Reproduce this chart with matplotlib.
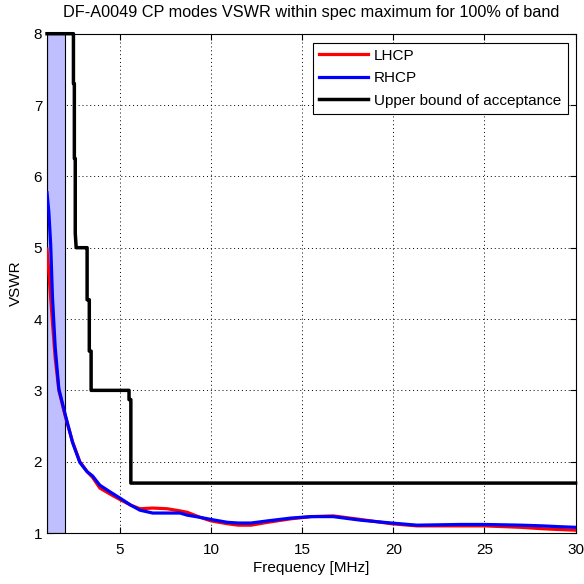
import matplotlib
matplotlib.use('Agg')
import matplotlib.pyplot as plt

plt.rcParams['font.family'] = ['Liberation Sans', 'DejaVu Sans']

# Frequency samples (MHz)
freq = [1.0, 1.1, 1.2, 1.3, 1.45, 1.65, 2.0, 2.4, 2.8, 3.2, 3.5, 3.9, 4.5, 5.0,
        5.6, 6.1, 6.8, 7.6, 8.3, 8.7, 9.4, 10.0, 10.9, 11.5, 12.2, 13.1, 14.4,
        15.5, 16.7, 18.2, 19.9, 21.3, 23.7, 25.0, 27.0, 28.2, 29.0, 30.0]

lhcp = [4.98, 4.65, 4.3, 3.95, 3.45, 3.0, 2.64, 2.28, 2.0, 1.86, 1.78, 1.63,
        1.54, 1.47, 1.39, 1.34, 1.35, 1.34, 1.31, 1.29, 1.22, 1.17, 1.13, 1.11,
        1.11, 1.15, 1.20, 1.23, 1.24, 1.19, 1.13, 1.10, 1.10, 1.10, 1.08, 1.06,
        1.05, 1.04]

rhcp = [5.77, 5.5, 5.05, 4.3, 3.6, 3.02, 2.66, 2.27, 1.99, 1.86, 1.80, 1.67,
        1.57, 1.49, 1.39, 1.32, 1.28, 1.28, 1.28, 1.25, 1.22, 1.19, 1.15, 1.14,
        1.14, 1.17, 1.21, 1.23, 1.23, 1.18, 1.14, 1.11, 1.12, 1.12, 1.11, 1.10,
        1.09, 1.08]

# Upper bound of acceptance (staircase)
bound_f = [1.0, 2.45, 2.45, 2.5, 2.5, 2.55, 2.55, 2.6, 3.15, 3.2, 3.2, 3.32,
           3.32, 3.42, 3.42, 5.5, 5.5, 5.6, 5.6, 5.75, 30.0]
bound_v = [8.0, 8.0, 7.3, 7.3, 6.25, 6.25, 5.2, 5.0, 5.0, 5.0, 4.27, 4.27,
           3.55, 3.55, 3.0, 3.0, 2.87, 2.87, 1.7, 1.7, 1.7]

# shaded band below spec start
band_lo, band_hi = 1.0, 2.0

fig = plt.figure(figsize=(5.84, 5.84), dpi=100)
ax = fig.add_axes([0.0805, 0.0873, 0.905, 0.855])

ax.axvspan(band_lo, band_hi, facecolor='#bfbfff', edgecolor='black', linewidth=0.8, zorder=1)
ax.plot(freq, lhcp, color='red', linewidth=2.3, label='LHCP', zorder=3)
ax.plot(freq, rhcp, color='blue', linewidth=2.3, label='RHCP', zorder=4)
ax.plot(bound_f, bound_v, color='black', linewidth=2.5, label='Upper bound of acceptance',
        zorder=5, clip_on=False)

ax.set_xlim(1, 30)
ax.set_ylim(1, 8)
ax.set_xticks([5, 10, 15, 20, 25, 30])
ax.set_yticks([1, 2, 3, 4, 5, 6, 7, 8])
ax.grid(True, color='black', linestyle=(0, (1, 3)), linewidth=0.7)
ax.set_axisbelow(True)
ax.tick_params(direction='in', top=True, right=True, length=4, labelsize=11)
ax.tick_params(axis='x', pad=7)
for s in ax.spines.values():
    s.set_linewidth(0.8)

ax.set_xlabel('Frequency [MHz]', fontsize=11, labelpad=3)
ax.set_ylabel('VSWR', fontsize=11, labelpad=8)
ax.set_title('DF-A0049 CP modes VSWR within spec maximum for 100% of band', fontsize=11.7, pad=12)

leg = ax.legend(loc='upper right', bbox_to_anchor=(0.985, 0.982), fontsize=11,
                handlelength=3.2, labelspacing=0.55, borderaxespad=0, fancybox=False,
                framealpha=1, edgecolor='black', handletextpad=0.4, borderpad=0.4)
leg.get_frame().set_linewidth(0.8)

fig.savefig('out.png', dpi=100)
